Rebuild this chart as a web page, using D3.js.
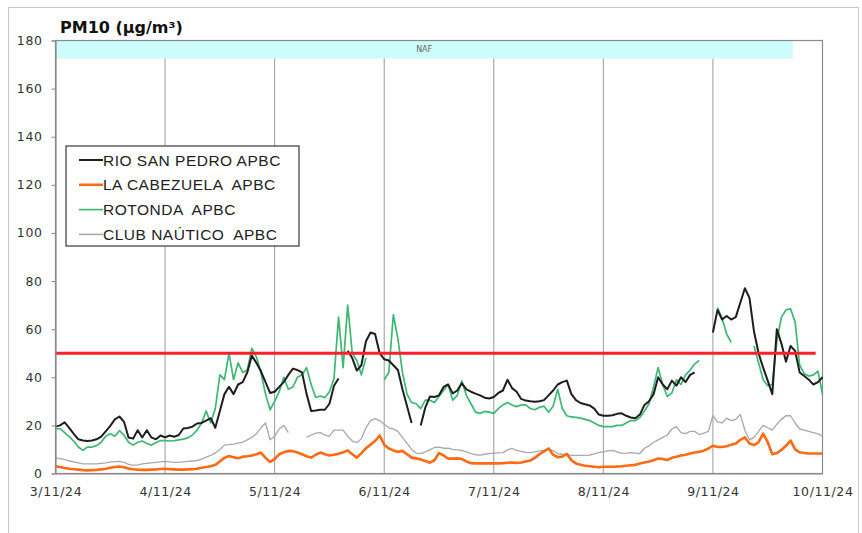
<!DOCTYPE html>
<html>
<head>
<meta charset="utf-8">
<script src="https://cdn.jsdelivr.net/npm/d3@7"></script>
<style>
  body { margin: 0; background: #fff; }
  .tick text { fill: #333; }
  .legend-label { white-space: pre; }
</style>
</head>
<body>
<script>
// hourly PM10 values, 3/11/24 00h to 10/11/24 00h (null = no data)
var days = ["3/11/24", "4/11/24", "5/11/24", "6/11/24", "7/11/24", "8/11/24", "9/11/24", "10/11/24"];
var yTicks = [0, 20, 40, 60, 80, 100, 120, 140, 160, 180];
var limitValue = 50;
var limitEndHour = 166.5;
var nafLabel = "NAF";
var nafEndHour = 161.5;
var nafBand = [172.5, 180];

var rioSanPedro = [
  19.5,20,21.3,19,16.5,14.2,13.7,13.5,13.7,14.2,15.3,17.5,19.8,22.5,23.7,21.5,15,14.5,18,15,18,15,14.2,15.8,
  15,15.8,15.3,16,18.7,18.9,19.5,20.8,21,22,23,19,26,33,36,33,37,38,42,49,46,42.5,38,33.5,
  34,36,38,41,43.6,43,42,33,26,26.2,26.5,26.5,29,36.5,39.5,null,51,48,42.8,45,55,58.6,58,50,
  47.5,47,45,43,35,28,21,null,20,27.4,32,31.8,32.5,36,37,33.3,34.5,37.5,35,34,33.2,32.5,31.5,31.2,
  31.8,33.5,34.5,39,35.5,34,31,30.3,30,29.8,30,30.5,32.5,34.5,37,38,38.6,33,30.5,29.3,28.8,28.3,27,24.5,
  24,24,24.2,24.8,25,24,23.3,23,24.5,28.5,30,33,40,37,35,38.6,36.5,40,38,41,42,null,null,null,
  58.6,68,64,65.5,64,65,71,77,73,59,50,44,38.6,33,60,54,46.5,53,51,42,40.5,39,37,38,40
];
var laCabezuela = [
  3,2.7,2.3,2,1.8,1.6,1.4,1.3,1.4,1.5,1.7,2,2.4,2.7,2.9,2.6,2.1,1.8,1.6,1.5,1.5,1.6,1.7,1.9,
  2,1.8,1.7,1.6,1.6,1.7,1.8,2,2.4,2.7,3,3.6,5,6.5,7.3,6.8,6.3,7,7.2,7.5,8,8.7,6.5,4.8,
  6,8,8.8,9.4,9.3,8.7,8,7.2,6.6,7.8,8.7,8,7.5,7.8,8.2,8.8,9.6,8,6.6,8.5,10.5,12,13.5,15.8,
  12,10.4,9.6,9,9.4,8,6.6,6.3,5.8,5.2,4.5,5.5,8.5,7.5,6.2,6.2,6.3,6,5,4.3,4.2,4.2,4.2,4.2,
  4.2,4.2,4.3,4.5,4.6,4.4,4.6,5,5.4,6.5,8,9.2,10.4,7.8,6.8,7,8.2,5.5,4.2,3.6,3.2,3,2.8,2.6,
  2.8,2.8,2.8,2.9,3,3.2,3.4,3.6,4.2,4.6,5,5.5,6.2,6,5.6,6.5,7,7.5,7.8,8.3,8.7,9,9.5,10.4,
  11.5,11,11,11.3,12,12.5,14,15,12.5,11.8,13,16.6,13,8,8.5,9.8,11.5,13.7,10,8.8,8.5,8.3,8.3,8.3,8.3
];
var rotonda = [
  18.5,18.7,17,15.3,13.5,11,9.6,11,11,11.6,13,15.5,16.5,15.5,17.8,16,13,11.8,13,13.5,12.5,11.8,12.8,13.7,
  13.7,13.5,13.7,14,14.3,14.8,16,18,21,26,21,27,41,39,50,39,46,42,43,52,48.5,42,33,26.5,
  30,34,40,35,36,40,41,44,37,31.6,32.2,31.5,34,39.5,65,44,70,50,47,41,48,null,null,null,
  39,42,66,56,42,33,29.5,29,27,30.5,30.5,29.5,32,34.5,37,30.5,32.5,38.5,32.5,29,25.5,25,25.8,25.5,
  25,27,28.5,29.5,28.5,27.8,28.5,28.5,27,26.5,27.5,28,25.5,28,35,27,24,23.5,23.3,23,22.5,22,21,20,
  19.5,19.5,19.5,20,20,21,22,22,23.3,26,29,36,44,37,32,33.5,39,37,41,43,45.5,47,null,null,
  null,69,64.5,58,54.5,null,null,null,null,53,46,39,36.5,37,55,65,68,68.5,63,45,41.5,40.5,41,42.5,33
];
var clubNautico = [
  6.5,6.2,5.8,5.2,4.8,4.4,4,4,4,4,4.2,4.4,4.7,4.9,5,4.6,3.8,3.4,3.6,4,4.2,4.4,4.6,4.8,
  5,4.8,4.6,4.6,4.8,5,5.2,5.4,6,6.8,7.5,8.5,10,11.8,12,12.2,12.6,13,14,15,16.5,19,21,14,
  15.5,18.5,20,17,null,null,null,15,16,16.8,17,16,15.5,18,18,18,15.5,13.5,12.8,14.5,19,22,22.8,22,
  20.5,19,18.5,17.5,15,12.5,10,8.5,8.3,9,9.8,10.8,11,10.5,10.5,10,9.8,9.6,9,8.3,7.8,7.6,8,8.3,
  8.5,8.6,8.7,9.8,10.4,9.6,9.2,8.8,8.7,9,9.4,9.6,10.3,9.5,8.3,8,7.7,7.5,7.5,7.5,7.5,7.6,8.2,8.7,
  9,9.4,9.6,9,8.4,8.5,8.7,8.5,8.3,10.5,11.5,13,14,15,16,18.5,19.5,17,16.6,17.5,17.5,16.2,16.8,17.5,
  24,21.5,21,23,22,22.5,24.5,18,14,15,17.5,20,19,18,20.5,22.5,24,24,21,18.5,18,17.5,17,16.5,15.5
];

var series = [
  { name: "RIO SAN PEDRO APBC", values: rioSanPedro, color: "#1e1e1e", width: 2 },
  { name: "LA CABEZUELA  APBC", values: laCabezuela, color: "#ff6a13", width: 2.6 },
  { name: "ROTONDA  APBC", values: rotonda, color: "#3db873", width: 1.7 },
  { name: "CLUB NAÚTICO  APBC", values: clubNautico, color: "#a8a8a8", width: 1.3 }
];

var svgWidth = 862;
var svgHeight = 533;
var margin = { top: 40.5, right: 39.5, bottom: 59.5, left: 55.5 };
var chartWidth = svgWidth - margin.left - margin.right;
var chartHeight = svgHeight - margin.top - margin.bottom;

var svg = d3.select("body").append("svg")
  .attr("width", svgWidth)
  .attr("height", svgHeight);

// outer frame
svg.append("rect")
  .attr("x", 8.5).attr("y", 7.5)
  .attr("width", 850).attr("height", 540)
  .attr("fill", "none").attr("stroke", "#c8c8c8");

var chartGroup = svg.append("g")
  .attr("transform", `translate(${margin.left}, ${margin.top})`);

var xScale = d3.scaleLinear().domain([0, 168]).range([0, chartWidth]);
var yScale = d3.scaleLinear().domain([0, 180]).range([chartHeight, 0]);

// day grid lines
chartGroup.selectAll(".grid").data(days.slice(1, -1)).enter()
  .append("line")
  .attr("x1", (d, i) => xScale((i + 1) * 24))
  .attr("x2", (d, i) => xScale((i + 1) * 24))
  .attr("y1", 0).attr("y2", chartHeight)
  .attr("stroke", "#9a9a9a").attr("stroke-width", 1);

// NAF band
chartGroup.append("rect")
  .attr("x", xScale(0))
  .attr("y", yScale(nafBand[1]))
  .attr("width", xScale(nafEndHour) - xScale(0))
  .attr("height", yScale(nafBand[0]) - yScale(nafBand[1]))
  .attr("fill", "#ccfcfc");
chartGroup.append("text")
  .attr("x", xScale(nafEndHour / 2))
  .attr("y", yScale((nafBand[0] + nafBand[1]) / 2))
  .attr("dy", "0.35em")
  .attr("text-anchor", "middle")
  .attr("font-family", "DejaVu Sans")
  .attr("font-size", 8)
  .attr("fill", "#666")
  .text(nafLabel);

// plot border
chartGroup.append("rect")
  .attr("width", chartWidth).attr("height", chartHeight)
  .attr("fill", "none").attr("stroke", "#8a8a8a").attr("stroke-width", 1.2);

var line = d3.line()
  .defined(d => d != null)
  .x((d, i) => xScale(i))
  .y(d => yScale(d));

series.slice().reverse().forEach(function(s) {
  chartGroup.append("path")
    .datum(s.values)
    .attr("fill", "none")
    .attr("stroke", s.color)
    .attr("stroke-width", s.width)
    .attr("stroke-linejoin", "round")
    .attr("d", line);
});

// limit line
chartGroup.append("line")
  .attr("x1", xScale(0)).attr("x2", xScale(limitEndHour))
  .attr("y1", yScale(limitValue)).attr("y2", yScale(limitValue))
  .attr("stroke", "#ff1f2a").attr("stroke-width", 3);

// axes
var leftAxis = d3.axisLeft(yScale).tickValues(yTicks).tickSize(4).tickPadding(9);
var bottomAxis = d3.axisBottom(xScale)
  .tickValues(days.map((d, i) => i * 24))
  .tickFormat((d, i) => days[i])
  .tickSize(0).tickPadding(14);

var yAxisG = chartGroup.append("g").call(leftAxis);
var xAxisG = chartGroup.append("g")
  .attr("transform", `translate(0, ${chartHeight})`)
  .call(bottomAxis);

[yAxisG, xAxisG].forEach(function(g) {
  g.select(".domain").attr("stroke", "#8a8a8a").attr("stroke-width", 1.2);
  g.selectAll(".tick line").attr("stroke", "#8a8a8a");
  g.selectAll("text")
    .attr("font-family", "DejaVu Sans")
    .attr("font-size", 12.5)
    .attr("letter-spacing", 0.6);
});

// title
svg.append("text")
  .attr("x", 60).attr("y", 33)
  .attr("font-family", "DejaVu Sans")
  .attr("font-weight", "bold")
  .attr("font-size", 16)
  .attr("fill", "#111")
  .text("PM10 (µg/m³)");

// legend
var legend = svg.append("g").attr("transform", "translate(66, 146)");
legend.append("rect")
  .attr("width", 233).attr("height", 100)
  .attr("fill", "#fff").attr("stroke", "#555").attr("stroke-width", 1.4);

var items = legend.selectAll(".item").data(series).enter()
  .append("g")
  .attr("transform", (d, i) => `translate(0, ${14 + i * 24.8})`);
items.append("line")
  .attr("x1", 13).attr("x2", 37)
  .attr("stroke", d => d.color)
  .attr("stroke-width", d => Math.max(d.width, 1.5));
items.append("text")
  .attr("class", "legend-label")
  .attr("x", 37)
  .attr("dy", "0.36em")
  .attr("font-family", "Liberation Sans")
  .attr("font-size", 15.5)
  .attr("letter-spacing", 0.5)
  .attr("fill", "#222")
  .text(d => d.name);
</script>
</body>
</html>
